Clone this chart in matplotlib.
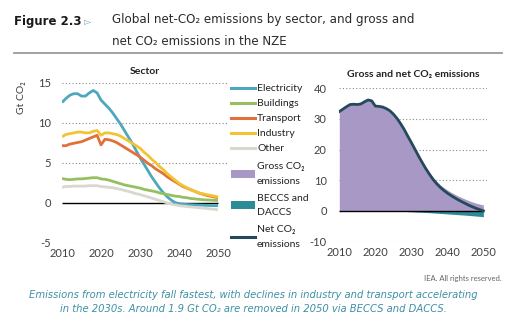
import matplotlib
matplotlib.use("Agg")
import matplotlib.pyplot as plt
from matplotlib.lines import Line2D
from matplotlib.patches import Patch

plt.rcParams['font.family'] = ['Lato', 'DejaVu Sans']
plt.rcParams['axes.unicode_minus'] = False

years = list(range(2010, 2051))

# left panel: sector emissions (Gt CO2)
electricity = [12.5, 13.0, 13.4, 13.6, 13.6, 13.3, 13.3, 13.7, 14.0, 13.7,
               12.8, 12.3, 11.8, 11.2, 10.5, 9.8, 9.0, 8.2, 7.4, 6.5,
               5.6, 4.8, 4.0, 3.2, 2.5, 1.8, 1.2, 0.7, 0.3, 0.0,
               -0.15, -0.2, -0.25, -0.28, -0.3, -0.32, -0.34, -0.36, -0.38, -0.39, -0.4]
buildings = [3.0, 2.9, 2.85, 2.9, 2.95, 2.95, 3.0, 3.05, 3.1, 3.1,
             2.95, 2.9, 2.8, 2.65, 2.5, 2.35, 2.2, 2.1, 2.0, 1.9,
             1.8, 1.65, 1.55, 1.45, 1.35, 1.2, 1.1, 1.0, 0.9, 0.8,
             0.75, 0.65, 0.6, 0.5, 0.45, 0.4, 0.35, 0.32, 0.3, 0.27, 0.25]
transport = [7.1, 7.1, 7.3, 7.4, 7.5, 7.6, 7.8, 8.0, 8.2, 8.4,
             7.2, 7.9, 7.85, 7.7, 7.5, 7.2, 6.9, 6.6, 6.3, 6.0,
             5.7, 5.3, 4.9, 4.6, 4.2, 3.9, 3.6, 3.2, 2.9, 2.6,
             2.3, 2.0, 1.8, 1.6, 1.4, 1.2, 1.05, 0.9, 0.8, 0.7, 0.6]
industry = [8.2, 8.5, 8.6, 8.7, 8.8, 8.8, 8.7, 8.7, 8.9, 9.0,
            8.4, 8.7, 8.7, 8.6, 8.5, 8.3, 8.0, 7.7, 7.4, 7.1,
            6.8, 6.3, 5.9, 5.4, 5.0, 4.5, 4.1, 3.6, 3.2, 2.8,
            2.4, 2.1, 1.85, 1.6, 1.4, 1.2, 1.1, 1.0, 0.9, 0.8, 0.7]
other = [1.9, 2.0, 2.0, 2.05, 2.05, 2.05, 2.05, 2.1, 2.1, 2.1,
         2.0, 1.95, 1.9, 1.85, 1.75, 1.65, 1.5, 1.4, 1.25, 1.1,
         1.0, 0.85, 0.7, 0.55, 0.4, 0.25, 0.1, -0.05, -0.2, -0.3,
         -0.4, -0.45, -0.5, -0.55, -0.6, -0.65, -0.7, -0.75, -0.8, -0.85, -0.9]

# right panel: gross / removals / net
gross = [32.4, 33.2, 34.0, 34.7, 34.8, 34.7, 34.9, 35.6, 36.2, 35.9,
         34.2, 34.1, 33.9, 33.42, 32.74, 31.66, 30.3, 28.64, 26.78, 24.63,
         22.6, 20.46, 18.32, 16.28, 14.34, 12.6, 10.98, 9.66, 8.54, 7.62,
         6.8, 6.08, 5.46, 4.84, 4.32, 3.8, 3.3, 2.9, 2.5, 2.2, 1.9]
removals = [0.0, 0.0, 0.0, 0.0, 0.0, 0.0, 0.0, 0.0, 0.0, 0.0,
            0.0, 0.0, 0.0, -0.02, -0.04, -0.06, -0.1, -0.14, -0.18, -0.23,
            -0.3, -0.36, -0.42, -0.48, -0.54, -0.6, -0.68, -0.76, -0.84, -0.92,
            -1.0, -1.08, -1.16, -1.24, -1.32, -1.4, -1.5, -1.6, -1.7, -1.8, -1.9]
net = [32.4, 33.2, 34.0, 34.7, 34.8, 34.7, 34.9, 35.6, 36.2, 35.9,
       34.2, 34.1, 33.9, 33.4, 32.7, 31.6, 30.2, 28.5, 26.6, 24.4,
       22.3, 20.1, 17.9, 15.8, 13.8, 12.0, 10.3, 8.9, 7.7, 6.7,
       5.8, 5.0, 4.3, 3.6, 3.0, 2.4, 1.8, 1.3, 0.8, 0.4, 0.0]

sector_names = ['Electricity', 'Buildings', 'Transport', 'Industry', 'Other']
sector_colors = ['#4EA8BD', '#96C060', '#E2703A', '#F2C434', '#D9D8CF']
total_names = ['Gross CO₂\nemissions', 'BECCS and\nDACCS', 'Net CO₂\nemissions']
c_gross, c_removal, c_net = '#A898C6', '#2C8B97', '#24495B'
tick_col = '#404040'

W, H = 511, 321
fig = plt.figure(figsize=(W / 100, H / 100), dpi=100)

def box(x0, y0, x1, y1):
    # pixel box -> figure fraction
    return [x0 / W, 1 - y1 / H, (x1 - x0) / W, (y1 - y0) / H]

# ---- left panel
ax1 = fig.add_axes(box(62, 82.5, 227, 242.5))
for vals, c in zip([electricity, buildings, transport, industry, other], sector_colors):
    ax1.plot(years, vals, color=c, lw=2.0, solid_capstyle='butt')
ax1.hlines(0, years[0], years[-1], color='black', lw=1.0, zorder=1)
ax1.set_xlim(2010, 2052.3)
ax1.set_ylim(-5, 15)
ax1.set_yticks([-5, 0, 5, 10, 15])
ax1.set_xticks([2010, 2020, 2030, 2040, 2050])
for y in [-5, 5, 10, 15]:
    ax1.axhline(y, color='#8a8a8a', lw=0.8, ls=(0, (1, 2)), zorder=0)
ax1.set_title('Sector', fontsize=7.5, fontweight='bold', color='#222222', pad=6)
ax1.tick_params(axis='y', length=0, pad=8, labelsize=8, labelcolor=tick_col)
ax1.tick_params(axis='x', length=0, pad=4, labelsize=8, labelcolor=tick_col)
for s in ax1.spines.values():
    s.set_visible(False)
fig.text(22 / W, 1 - 98 / H, 'Gt CO₂', rotation=90, ha='center', va='center',
         fontsize=7.5, color=tick_col)

# ---- right panel
ax2 = fig.add_axes(box(339.3, 88.3, 487, 241.5))
ax2.fill_between(years, 0, gross, color=c_gross, lw=0)
ax2.fill_between(years, 0, removals, color=c_removal, lw=0)
ax2.hlines(0, years[0], years[-1], color='black', lw=1.0, zorder=2)
ax2.plot(years, net, color=c_net, lw=2.0, zorder=3)
ax2.set_xlim(2010, 2051)
ax2.set_ylim(-10, 40)
ax2.set_yticks([-10, 0, 10, 20, 30, 40])
ax2.set_xticks([2010, 2020, 2030, 2040, 2050])
for y in [-10, 10, 20, 30, 40]:
    ax2.axhline(y, color='#8a8a8a', lw=0.8, ls=(0, (1, 2)), zorder=0)
ax2.set_title('Gross and net CO₂ emissions', fontsize=7.5, fontweight='bold',
              color='#222222', pad=8)
ax2.tick_params(axis='y', length=0, pad=9, labelsize=8, labelcolor=tick_col)
ax2.tick_params(axis='x', length=0, pad=4, labelsize=8, labelcolor=tick_col)
for s in ax2.spines.values():
    s.set_visible(False)

# ---- legends (sectors, then the totals with looser spacing)
h1 = [Line2D([], [], color=c, lw=2.2) for c in sector_colors]
leg1 = fig.legend(h1, sector_names, loc='upper left', bbox_to_anchor=(231 / W, 1 - 84 / H),
                  frameon=False, fontsize=7.5, handlelength=2.3,
                  handletextpad=0.2, labelspacing=0.55, borderpad=0, borderaxespad=0)
h2 = [Patch(color=c_gross, lw=0), Patch(color=c_removal, lw=0),
      Line2D([], [], color=c_net, lw=2.2)]
leg2 = fig.legend(h2, total_names, loc='upper left', bbox_to_anchor=(231 / W, 1 - 162 / H),
                  frameon=False, fontsize=7.5, handlelength=2.3, handleheight=0.8,
                  handletextpad=0.2, labelspacing=0.76, borderpad=0, borderaxespad=0)
for t in leg1.get_texts():
    t.set_color('#222222')
for t in leg2.get_texts():
    t.set_color('#222222')
    t.set_linespacing(1.8)

# ---- header
fig.text(14 / W, 1 - 21 / H, 'Figure 2.3', fontsize=8.5, fontweight='bold',
         color='#1a1a1a', va='center', family=['DejaVu Sans'])
fig.text(84 / W, 1 - 21 / H, '▻', fontsize=7, color='#7FA9C2', va='center',
         family=['DejaVu Sans'])
fig.text(112 / W, 1 - 30.5 / H,
         'Global net-CO₂ emissions by sector, and gross and\nnet CO₂ emissions in the NZE',
         fontsize=8.6, color='#2a2a2a', va='center', linespacing=1.9,
         family=['DejaVu Sans'])
fig.add_artist(Line2D([14 / W, 502 / W], [1 - 53 / H, 1 - 53 / H], color='#9a9a9a', lw=1.3))

# ---- footer
fig.text(502 / W, 1 - 278 / H, 'IEA. All rights reserved.', fontsize=5.5,
         color='#666666', ha='right', va='center')
fig.text(253 / W, 1 - 302 / H,
         'Emissions from electricity fall fastest, with declines in industry and transport accelerating\n'
         'in the 2030s. Around 1.9 Gt CO₂ are removed in 2050 via BECCS and DACCS.',
         fontsize=7.2, color='#3E90A6', style='italic', ha='center', va='center',
         linespacing=1.45, family=['DejaVu Sans'])

fig.savefig('out.png', dpi=100)
